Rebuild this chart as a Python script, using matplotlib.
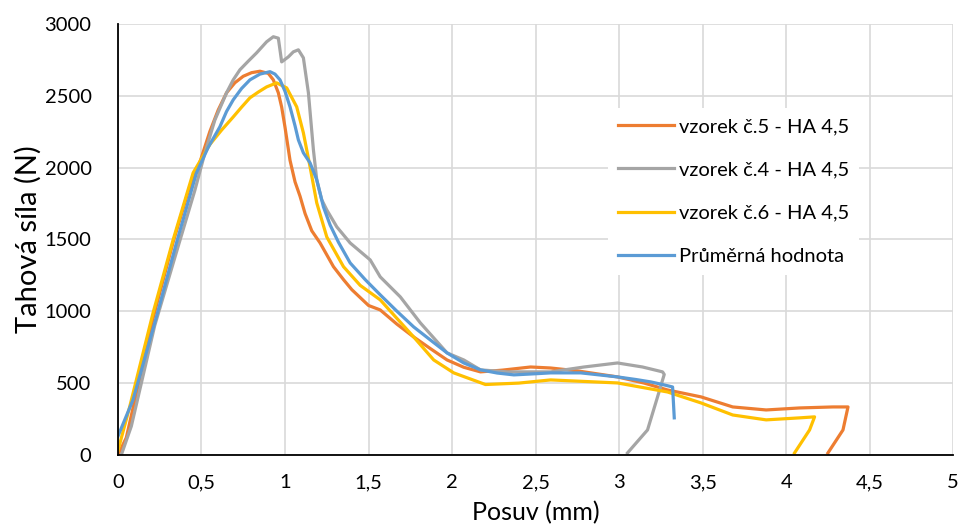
import matplotlib.pyplot as plt
from matplotlib.ticker import FuncFormatter

# vzorek c.5
x5 = [0, 0.05, 0.12, 0.21, 0.33, 0.42, 0.48, 0.55, 0.6, 0.65, 0.7, 0.75, 0.8, 0.85, 0.9, 0.93,
      0.96, 0.98, 1.0, 1.03, 1.06, 1.09, 1.12, 1.16, 1.21, 1.29, 1.35, 1.4, 1.5, 1.57, 1.67,
      1.77, 1.87, 1.97, 2.07, 2.17, 2.3, 2.47, 2.59, 2.75, 2.99, 3.15, 3.29, 3.49, 3.68, 3.88,
      4.08, 4.28, 4.37, 4.34, 4.25]
y5 = [0, 120, 480, 950, 1480, 1830, 2000, 2250, 2400, 2520, 2590, 2635, 2660, 2670, 2655, 2610,
      2520, 2420, 2280, 2050, 1900, 1800, 1680, 1560, 1475, 1310, 1220, 1150, 1040, 1009, 910,
      821, 740, 661, 610, 578, 590, 612, 605, 585, 543, 500, 452, 404, 334, 313,
      327, 334, 334, 174, 14]

# vzorek c.4
x4 = [0.02, 0.08, 0.22, 0.36, 0.46, 0.52, 0.58, 0.65, 0.69, 0.73, 0.78, 0.83, 0.89, 0.93, 0.96,
      0.98, 1.02, 1.05, 1.08, 1.11, 1.14, 1.17, 1.19, 1.22, 1.25, 1.31, 1.39, 1.51, 1.57, 1.69,
      1.81, 1.97, 2.07, 2.17, 2.33, 2.59, 2.79, 2.99, 3.14, 3.26, 3.27, 3.23, 3.17, 3.05]
y4 = [0, 200, 900, 1450, 1840, 2100, 2330, 2520, 2610, 2680, 2740, 2798, 2875, 2910, 2900,
      2735, 2770, 2805, 2819, 2763, 2520, 2123, 1914, 1775, 1705, 1587, 1475, 1357, 1239, 1100,
      919, 710, 661, 592, 578, 578, 612, 640, 612, 578, 560, 404, 174, 14]

# vzorek c.6
x6 = [0, 0.07, 0.21, 0.33, 0.45, 0.55, 0.62, 0.69, 0.74, 0.79, 0.84, 0.89, 0.95, 1.01, 1.07,
      1.11, 1.15, 1.19, 1.25, 1.35, 1.45, 1.57, 1.67, 1.77, 1.89, 2.01, 2.2, 2.4, 2.59, 2.99,
      3.29, 3.49, 3.68, 3.88, 4.08, 4.17, 4.14, 4.05]
y6 = [30, 334, 988, 1496, 1963, 2160, 2260, 2352, 2420, 2485, 2525, 2561, 2589, 2554, 2422,
      2241, 2004, 1754, 1517, 1310, 1180, 1079, 950, 821, 661, 571, 490, 500, 522, 501,
      438, 362, 278, 244, 258, 265, 174, 14]

# prumerna hodnota
xp = [0, 0.09, 0.23, 0.35, 0.47, 0.54, 0.61, 0.65, 0.69, 0.74, 0.79, 0.85, 0.91, 0.94, 0.97,
      1.0, 1.03, 1.06, 1.08, 1.11, 1.15, 1.19, 1.23, 1.27, 1.32, 1.39, 1.48, 1.57, 1.67, 1.77,
      1.87, 1.97, 2.07, 2.17, 2.27, 2.37, 2.5, 2.59, 2.77, 2.99, 3.1, 3.19, 3.26, 3.32, 3.33]
yp = [130, 383, 960, 1475, 1963, 2140, 2283, 2390, 2471, 2550, 2610, 2650, 2667, 2650, 2610,
      2530, 2422, 2290, 2192, 2102, 2032, 1914, 1726, 1600, 1480, 1336, 1220, 1114, 1000, 891,
      800, 710, 640, 592, 570, 557, 565, 571, 571, 543, 525, 508, 490, 473, 258]

oranzova = "#ED7D31"
seda = "#A5A5A5"
zluta = "#FFC000"
modra = "#5B9BD5"

plt.rcParams["font.family"] = ["Lato", "DejaVu Sans"]

fig = plt.figure(figsize=(9.59, 5.29), dpi=100)
ax = fig.add_axes([0.123, 0.140, 0.871, 0.815])

lw = 2.3
ax.plot(x5, y5, color=oranzova, lw=lw, label="vzorek č.5 - HA 4,5", solid_joinstyle="round")
ax.plot(x4, y4, color=seda, lw=lw, label="vzorek č.4 - HA 4,5", solid_joinstyle="round")
ax.plot(x6, y6, color=zluta, lw=lw, label="vzorek č.6 - HA 4,5", solid_joinstyle="round")
ax.plot(xp, yp, color=modra, lw=lw, label="Průměrná hodnota", solid_joinstyle="round")

ax.set_xlim(0, 5)
ax.set_ylim(0, 3000)
ax.set_xticks([i * 0.5 for i in range(11)])
ax.set_yticks(range(0, 3001, 500))
ax.xaxis.set_major_formatter(FuncFormatter(lambda v, p: ("%g" % v).replace(".", ",")))
ax.tick_params(length=0, labelsize=14.5)
ax.tick_params(axis="x", pad=14)
ax.tick_params(axis="y", pad=19)
ax.grid(color="#D9D9D9", lw=1.2)
ax.set_axisbelow(True)
for s in ["top", "right"]:
    ax.spines[s].set_visible(False)
for s in ["left", "bottom"]:
    ax.spines[s].set_color("black")
    ax.spines[s].set_linewidth(1.3)

ax.set_xlabel("Posuv (mm)", fontsize=18, labelpad=7)
ax.set_ylabel("Tahová síla (N)", fontsize=21, labelpad=2)

leg = ax.legend(loc="upper left", bbox_to_anchor=(0.575, 0.828), frameon=True, fontsize=14.5,
                handlelength=2.75, labelspacing=1.3, borderpad=0.5, handletextpad=0.25)
leg.get_frame().set_edgecolor("none")
leg.get_frame().set_facecolor("white")
leg.get_frame().set_alpha(1)

fig.savefig("out.png", dpi=100)
